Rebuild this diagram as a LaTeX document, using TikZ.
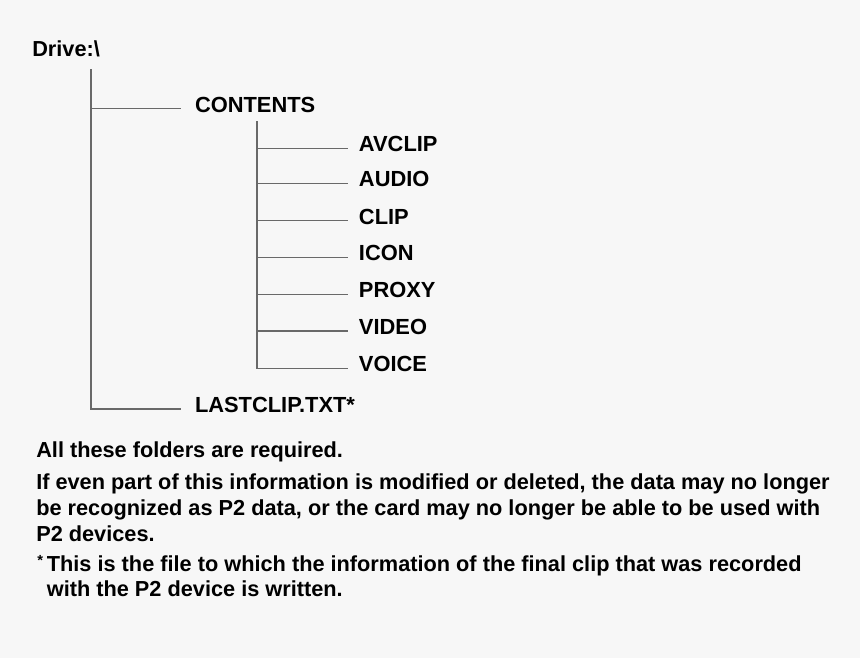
\documentclass[tikz,border=0pt]{standalone}
\usepackage{fontspec}
\setmainfont{Liberation Sans}
\definecolor{pagebg}{RGB}{247,247,247}
\definecolor{treeline}{RGB}{105,105,105}

\begin{document}
\begin{tikzpicture}[x=0.75pt,y=-0.75pt,
  folder/.style={font=\fontsize{16.4pt}{18pt}\selectfont\bfseries, inner sep=0pt, outer xsep=10.5pt, anchor=mid west},
  subfolder/.style={folder, outer xsep=8.6pt},
  note/.style={font=\fontsize{16.3pt}{18pt}\selectfont\bfseries, inner sep=0pt, anchor=base west},
  branch/.style={draw, treeline, line width=0.9pt}]
\fill[pagebg] (0,0) rectangle (860,658);
\useasboundingbox (0,0) rectangle (860,658);
% tree
\node[note] (drive) at (32,56.7) {Drive:\textbackslash};
\coordinate (top) at (91,69);
\node[folder] (contents) at (181,108.7) {CONTENTS};
\coordinate (subtop) at (257,121);
\node[subfolder] (avclip) at (347.5,148.3) {AVCLIP};
\node[subfolder] (audio) at (347.5,183.3) {AUDIO};
\node[subfolder] (clip) at (347.5,220.7) {CLIP};
\node[subfolder] (icon) at (347.5,257.3) {ICON};
\node[subfolder] (proxy) at (347.5,294.3) {PROXY};
\node[subfolder] (video) at (347.5,331) {VIDEO};
\node[subfolder] (voice) at (347.5,368.3) {VOICE};
\node[folder] (lastclip) at (181,409) {LASTCLIP.TXT*};
\path[branch] (top) -- (top |- lastclip.mid west) -- (lastclip.mid west);
\path[branch] (top |- contents.mid west) -- (contents.mid west);
\path[branch] (subtop) -- (subtop |- voice.mid west) -- (voice.mid west);
\path[branch] (subtop |- avclip.mid west) -- (avclip.mid west);
\path[branch] (subtop |- audio.mid west) -- (audio.mid west);
\path[branch] (subtop |- clip.mid west) -- (clip.mid west);
\path[branch] (subtop |- icon.mid west) -- (icon.mid west);
\path[branch] (subtop |- proxy.mid west) -- (proxy.mid west);
\path[branch] (subtop |- video.mid west) -- (video.mid west);
% notes
\node[note] (req) at (36,457.3) {All these folders are required.};
\node[note] (warn1) at (36,489.5) {If even part of this information is modified or deleted, the data may no longer};
\node[note] (warn2) at (36,515.2) {be recognized as P2 data, or the card may no longer be able to be used with};
\node[note] (warn3) at (36,541) {P2 devices.};
\node[note] (foot1) at (37,571) {\makebox[7.2pt][l]{\fontsize{11pt}{12pt}\selectfont\raisebox{4.5pt}{*}}This is the file to which the information of the final clip that was recorded};
\node[note] (foot2) at (46.6,596.5) {with the P2 device is written.};
\end{tikzpicture}
\end{document}
